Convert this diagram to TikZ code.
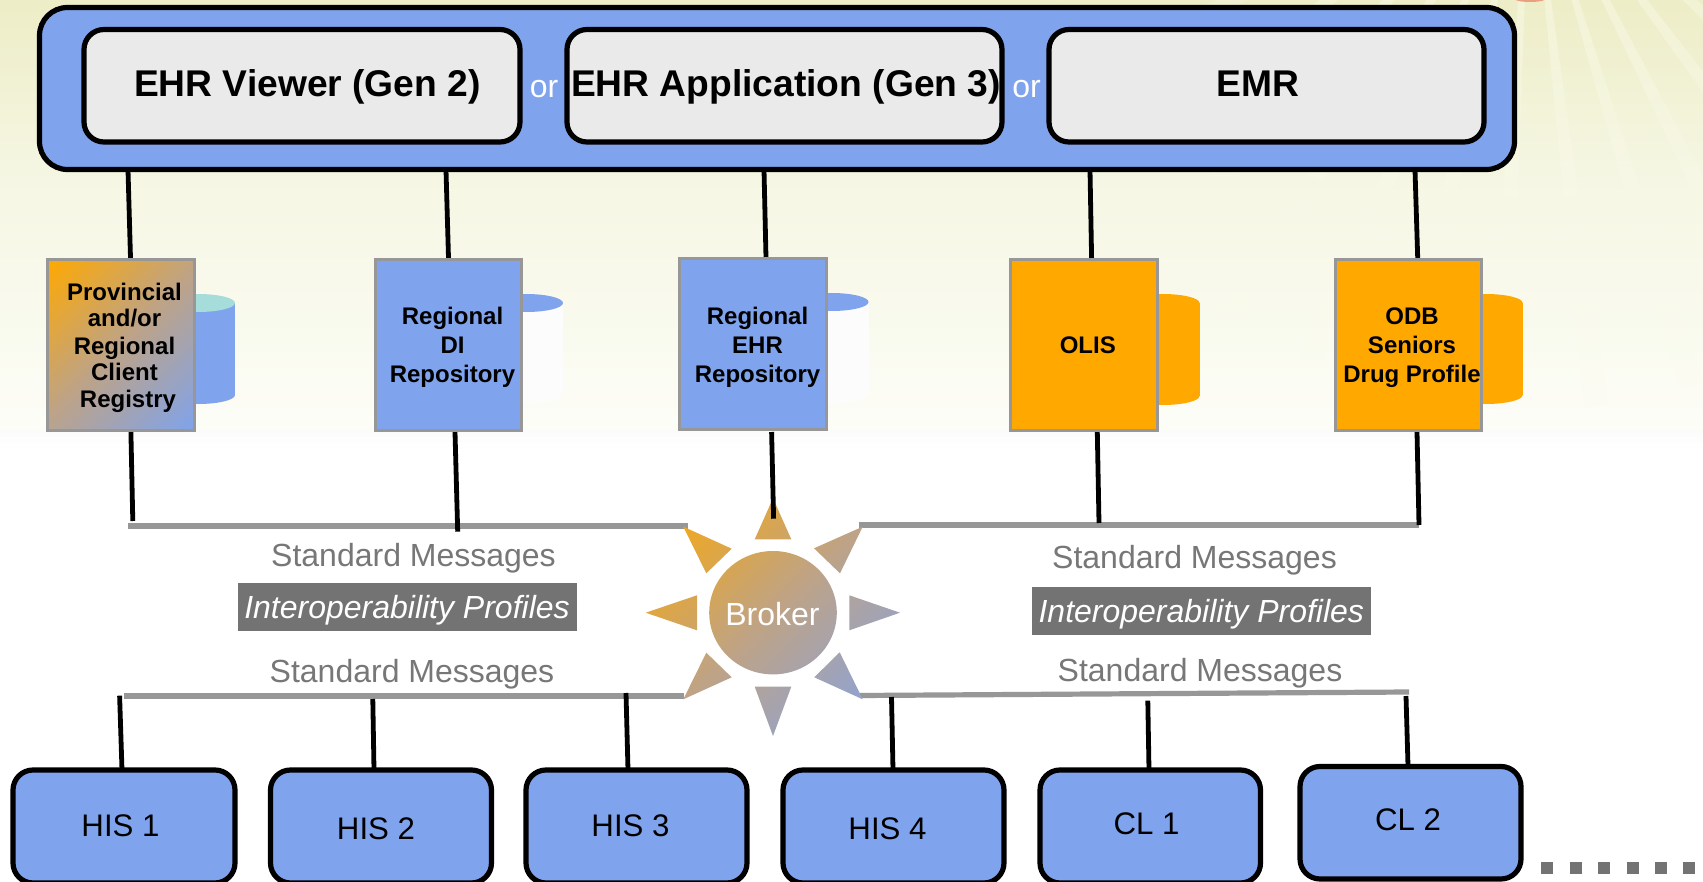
\documentclass[tikz,border=0pt]{standalone}
\usepackage{fontspec}
\setmainfont{Liberation Sans}
\usetikzlibrary{fadings}
\definecolor{boxblue}{HTML}{7FA3EC}
\definecolor{orng}{HTML}{FFA900}
\definecolor{gradmid}{HTML}{BDA388}
\definecolor{capteal}{HTML}{A6DCD9}
\definecolor{edgegray}{HTML}{979797}
\definecolor{panel}{HTML}{EAEAEA}
\definecolor{msggray}{HTML}{777777}
\definecolor{profgray}{HTML}{737373}
\definecolor{raylight}{HTML}{FBFBEC}
\definecolor{sunspot}{HTML}{E8A080}
\tikzfading[name=rayfade, inner color=transparent!0, outer color=transparent!100]
\pgfdeclareverticalshading{diaggrad}{100bp}{color(0bp)=(boxblue); color(14.6bp)=(boxblue); color(50bp)=(gradmid); color(85.4bp)=(orng); color(100bp)=(orng)}
\newcommand{\fs}[2][]{\fontsize{#2pt}{#2pt}\selectfont}
\newcommand{\dbcyl}[5]{% right, top, bottom, body, cap
  \fill[#4] (#1-74,#2+9) rectangle (#1,#3-9);
  \fill[#4] (#1-37,#3-9) ellipse (37 and 9);
  \fill[#5] (#1-37,#2+9) ellipse (37 and 9);
}
\tikzset{
  every node/.style={inner sep=0pt, outer sep=0pt},
  outerbox/.style={draw=black, line width=2.6pt, fill=boxblue, rounded corners=14pt},
  appbox/.style={draw=black, line width=2.6pt, fill=panel, rounded corners=10pt},
  hisbox/.style={draw=black, line width=2.6pt, fill=boxblue, rounded corners=10pt},
  repbox/.style={draw=edgegray, line width=1.5pt},
  gradfill/.style={shading=diaggrad, shading angle=45},
  linkline/.style={draw=black, line width=2.4pt},
  busline/.style={draw=edgegray, line width=2.6pt},
  apptext/.style={anchor=base, font=\bfseries\fs{18.6}},
  ortext/.style={anchor=base, text=white, font=\fs{16}},
  reptext/.style={anchor=base, align=center, font=\bfseries\fontsize{12pt}{14.5pt}\selectfont},
  reptextclient/.style={anchor=base, align=center, font=\bfseries\fontsize{12pt}{13.5pt}\selectfont},
  msgtext/.style={anchor=base, text=msggray, font=\fs{16}},
  proftext/.style={anchor=base, text=white, font=\itshape\fs{16}},
  profbox/.style={fill=profgray},
  histext/.style={anchor=base, font=\fs{15.6}},
  dotbox/.style={fill=profgray, minimum size=6pt},
}
\begin{document}
\begin{tikzpicture}[x=0.5pt,y=-0.5pt]
\useasboundingbox (0,0) rectangle (1703,882);
\clip (0,0) rectangle (1703,882);
% background
\fill[white] (0,0) rectangle (1703,882);
\shade[top color={rgb,255:red,237;green,237;blue,199}, bottom color={rgb,255:red,245;green,246;blue,226}] (0,0) rectangle (1703,170);
\shade[top color={rgb,255:red,245;green,246;blue,226}, bottom color={rgb,255:red,250;green,251;blue,240}] (0,170) rectangle (1703,345);
\shade[top color={rgb,255:red,250;green,251;blue,240}, bottom color={rgb,255:red,253;green,253;blue,248}] (0,345) rectangle (1703,430);
\shade[top color={rgb,255:red,251;green,252;blue,250}, bottom color=white] (0,430) rectangle (1703,452);
% sun rays
\begin{scope}
  \clip
  \foreach \a in {2,12,...,172} {
    (1530,-150) -- ++(\a:1200) -- ++(\a+5:1200) -- cycle
  };
  \fill[raylight, opacity=0.65, path fading=rayfade] (1530,-150) circle (560);
\end{scope}
\fill[sunspot] (1530,-2) ellipse (17 and 4);
% database cylinders
\dbcyl{235}{294}{404}{boxblue}{capteal}
\dbcyl{563}{294}{403}{white!99!black}{boxblue}
\dbcyl{868.5}{293}{403}{white!99!black}{boxblue}
\dbcyl{1199.5}{294}{405}{orng}{orng}
\dbcyl{1522.7}{294}{404}{orng}{orng}
% top panel
\node[outerbox, minimum width=737.5pt, minimum height=81pt] (outer) at (777,88.5) {};
\node[appbox, minimum width=218pt, minimum height=56.25pt] (viewer) at (302,85.75) {};
\node[appbox, minimum width=217.5pt, minimum height=56.25pt] (application) at (784.5,85.75) {};
\node[appbox, minimum width=217.5pt, minimum height=56.25pt] (emr) at (1266.5,85.75) {};
\node[apptext] (viewert) at (307.4,97) {EHR Viewer (Gen 2)};
\node[apptext] (applicationt) at (786,97) {EHR Application (Gen 3)};
\node[apptext] (emrt) at (1258,97) {EMR};
\node[ortext] (or1) at (544,98) {or};
\node[ortext] (or2) at (1026.5,98) {or};
% connector ends
\coordinate (a1) at (128,170);   \coordinate (a2) at (130.5,258);
\coordinate (b1) at (446,170);   \coordinate (b2) at (448.5,258);
\coordinate (c1) at (764,170);   \coordinate (c2) at (766,258);
\coordinate (d1) at (1090,170);  \coordinate (d2) at (1091.6,258);
\coordinate (e1) at (1415,170);  \coordinate (e2) at (1417.7,258);
\coordinate (a3) at (130.9,432); \coordinate (a4) at (132.8,521);
\coordinate (b3) at (455,432);   \coordinate (b4) at (457.7,531.7);
\coordinate (c3) at (771.6,432); \coordinate (c4) at (773.6,518.7);
\coordinate (d3) at (1097.3,432);\coordinate (d4) at (1099,523);
\coordinate (e3) at (1417,432);  \coordinate (e4) at (1419,525);
\coordinate (tl1) at (128,526);  \coordinate (tl2) at (688,526);
\coordinate (tr1) at (859,525);  \coordinate (tr2) at (1419,525);
\coordinate (bl1) at (124,696);  \coordinate (bl2) at (684,696);
\coordinate (br1) at (860,695.5);\coordinate (br2) at (1409,692);
\coordinate (h1a) at (119.6,695.7); \coordinate (h1b) at (122,770);
\coordinate (h2a) at (372.8,699);   \coordinate (h2b) at (374,770);
\coordinate (h3a) at (626,693);     \coordinate (h3b) at (628,770);
\coordinate (h4a) at (891.5,697);   \coordinate (h4b) at (893,770);
\coordinate (h5a) at (1147.8,700.7);\coordinate (h5b) at (1149,770);
\coordinate (h6a) at (1406,696);    \coordinate (h6b) at (1408,766);
% gray message lines
\draw[busline] (tl1) -- (tl2);
\draw[busline] (tr1) -- (tr2);
\draw[busline] (bl1) -- (bl2);
\draw[busline] (br1) -- (br2);
% upper connectors
\foreach \p/\q in {a1/a2,b1/b2,c1/c2,d1/d2,e1/e2,a3/a4,b3/b4,d3/d4,e3/e4,h1a/h1b,h2a/h2b,h3a/h3b,h4a/h4b,h5a/h5b,h6a/h6b}
  \draw[linkline] (\p) -- (\q);
% repositories
\node[repbox, gradfill, minimum width=73.5pt, minimum height=85.5pt] (client) at (120.5,345) {};
\node[repbox, fill=boxblue, minimum width=73.2pt, minimum height=85.5pt] (direpo) at (448.2,345) {};
\node[repbox, fill=boxblue, minimum width=73.5pt, minimum height=85.5pt] (ehrrepo) at (753,344.3) {};
\node[repbox, fill=orng, minimum width=73.3pt, minimum height=85.5pt] (olis) at (1083.8,345) {};
\node[repbox, fill=orng, minimum width=73.2pt, minimum height=85.5pt] (odb) at (1408.4,345) {};
\node[reptextclient] (clientt) at (124.5,408) {Provincial\\and/or\\Regional\\Client\\ \hspace{3.5pt}Registry};
\node[reptext] (direpot) at (452.5,382.7) {Regional\\DI\\Repository};
\node[reptext] (ehrrepot) at (757.5,382.7) {Regional\\EHR\\Repository};
\node[reptext] (olist) at (1087.8,353) {OLIS};
\node[reptext] (odbt) at (1412,382.8) {ODB\\Seniors\\Drug Profile};
% broker star
\path[gradfill]
  (773,498.3) -- (754.7,539.3) -- (791.3,539.3) -- cycle
  (862.7,526.7) -- (814,548.3) -- (840,573.3) -- cycle
  (900,612.7) -- (849.3,595.3) -- (849.3,630.3) -- cycle
  (862.7,699.3) -- (814.3,677.3) -- (839.7,652.3) -- cycle
  (773,736) -- (754.7,686.7) -- (791.3,686.7) -- cycle
  (683.3,699.3) -- (731.7,677.3) -- (706.3,652.7) -- cycle
  (645.7,612.7) -- (697,595.3) -- (697,630.3) -- cycle
  (683.3,526.7) -- (731.7,548.7) -- (706.3,573.3) -- cycle
  (773,612.7) ellipse (63.8 and 61.7);
\node[anchor=base, text=white, font=\fs{16}] (broker) at (772.5,625.3) {Broker};
\draw[linkline] (c3) -- (c4);
% message labels
\node[msgtext] (m1) at (413.5,566) {Standard Messages};
\node[msgtext] (m2) at (412,682) {Standard Messages};
\node[msgtext] (m3) at (1194.5,568) {Standard Messages};
\node[msgtext] (m4) at (1200,681.7) {Standard Messages};
\node[profbox, minimum width=169.35pt, minimum height=24pt] (p1) at (407.65,606.7) {};
\node[profbox, minimum width=169.35pt, minimum height=24pt] (p2) at (1201.65,611.3) {};
\node[proftext] (p1t) at (407,618.3) {Interoperability Profiles};
\node[proftext] (p2t) at (1201.3,622.7) {Interoperability Profiles};
% bottom systems
\node[hisbox, minimum width=111pt, minimum height=56.5pt] (his1) at (124,826.5) {};
\node[hisbox, minimum width=110.5pt, minimum height=56.5pt] (his2) at (381,826.5) {};
\node[hisbox, minimum width=110.5pt, minimum height=56.5pt] (his3) at (636.5,826.5) {};
\node[hisbox, minimum width=110.5pt, minimum height=56.5pt] (his4) at (893.5,826.5) {};
\node[hisbox, minimum width=110.25pt, minimum height=56.5pt] (cl1) at (1150.25,826.5) {};
\node[hisbox, minimum width=110.5pt, minimum height=56.25pt] (cl2) at (1410.5,822.75) {};
\node[histext] (his1t) at (120.5,836.7) {HIS 1};
\node[histext] (his2t) at (376,839) {HIS 2};
\node[histext] (his3t) at (630.5,836.7) {HIS 3};
\node[histext] (his4t) at (887.5,839) {HIS 4};
\node[histext] (cl1t) at (1146.5,834) {CL 1};
\node[histext] (cl2t) at (1408,830) {CL 2};
% dotted squares
\foreach \n/\x in {1/1547.3,2/1575.7,3/1604.3,4/1632.7,5/1661,6/1689.3}
  \node[dotbox] (dot\n) at (\x,868.3) {};
\end{tikzpicture}
\end{document}
